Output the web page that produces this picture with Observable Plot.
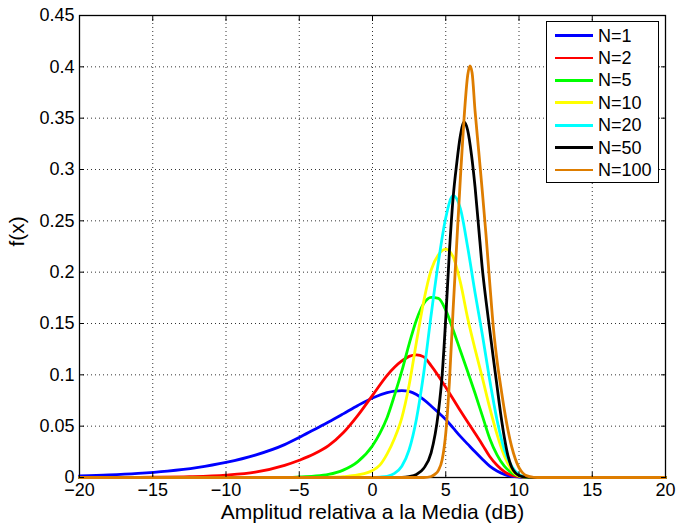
<!DOCTYPE html>
<html>
<head>
<meta charset="utf-8">
<script src="https://cdn.jsdelivr.net/npm/d3@7"></script>
<script src="https://cdn.jsdelivr.net/npm/@observablehq/plot@0.6"></script>
<style>
  body { margin: 0; background: #fff; }
  #wrap { position: relative; width: 677px; height: 524px; font-family: "Liberation Sans", Arial, sans-serif; }
  #legend { position: absolute; left: 546px; top: 21px; width: 113px; height: 162px; box-sizing: border-box;
            border: 1px solid #000; background: #fff; }
  .row { position: absolute; left: 0; width: 100%; height: 0; }
  .sw { position: absolute; left: 8px; width: 38px; height: 2.8px; top: -1.4px; }
  .lt { position: absolute; left: 51px; top: -9px; font-size: 18px; line-height: 18px; white-space: nowrap; color: #000; }
</style>
</head>
<body>
<div id="wrap"></div>
<script>
// Values: [x (dB), f(x)]
const n1 = [[-20,0.0016],[-18,0.0025],[-16,0.004],[-14,0.0063],[-12,0.0097],[-10,0.0147],[-8,0.0218],[-6,0.032],[-5,0.039],[-4,0.0465],[-3,0.054],[-2,0.062],[-1,0.0702],[0,0.0775],[1,0.0826],[1.5,0.0841],[2,0.0847],[2.5,0.0838],[3,0.0808],[3.5,0.0758],[4,0.0697],[4.5,0.0632],[5,0.0565],[5.5,0.0483],[6,0.04],[6.5,0.0325],[7,0.025],[7.5,0.0178],[8,0.011],[8.5,0.0063],[9,0.003],[9.5,0.0012],[10,0.0005],[11,0],[20,0]];
const n2 = [[-20,0],[-17.5,0.0001],[-15,0.0003],[-12.5,0.0008],[-10,0.0023],[-8,0.0052],[-6,0.0118],[-5,0.0168],[-4,0.0228],[-3,0.031],[-2,0.0435],[-1,0.0605],[0,0.08],[1,0.0995],[2,0.1135],[2.5,0.118],[3,0.1195],[3.5,0.1175],[4,0.109],[5,0.088],[6,0.065],[7,0.043],[7.5,0.032],[8,0.0205],[8.5,0.012],[9,0.0058],[9.5,0.0022],[10,0.0008],[11,0.0001],[12,0],[20,0]];
const n5 = [[-20,0],[-6,0],[-5,0.0005],[-4,0.0013],[-3,0.003],[-2,0.0072],[-1,0.0155],[0,0.031],[0.5,0.043],[1,0.0585],[1.5,0.08],[2,0.1035],[2.5,0.13],[3,0.1535],[3.5,0.1695],[4,0.1755],[4.5,0.1745],[5,0.163],[5.5,0.144],[6,0.1235],[6.5,0.103],[7,0.082],[7.5,0.06],[8,0.038],[8.5,0.022],[9,0.011],[9.5,0.0045],[10,0.0013],[10.5,0.0003],[11,0],[20,0]];
const n10 = [[-20,0],[-4,0],[-3,0.0002],[-2,0.0008],[-1,0.0025],[0,0.0068],[0.5,0.012],[1,0.023],[1.5,0.038],[2,0.058],[2.5,0.09],[3,0.132],[3.5,0.172],[4,0.202],[4.5,0.217],[5,0.2225],[5.5,0.215],[6,0.19],[6.5,0.155],[7,0.125],[7.5,0.097],[8,0.068],[8.5,0.042],[9,0.021],[9.5,0.0075],[10,0.0015],[10.5,0.0002],[11,0],[20,0]];
const n20 = [[-20,0],[0,0],[0.5,0.0004],[1,0.0012],[1.5,0.004],[2,0.011],[2.5,0.027],[3,0.057],[3.5,0.102],[4,0.158],[4.5,0.21],[5,0.253],[5.5,0.2745],[6,0.262],[6.5,0.224],[7,0.18],[7.5,0.139],[8,0.095],[8.5,0.056],[9,0.027],[9.5,0.011],[10,0.0028],[10.5,0.0005],[11,0],[20,0]];
const n50 = [[-20,0],[2,0],[2.5,0.0008],[3,0.003],[3.5,0.009],[4,0.024],[4.5,0.064],[4.75,0.099],[5,0.155],[5.25,0.22],[5.5,0.272],[5.75,0.306],[6,0.333],[6.25,0.346],[6.5,0.338],[6.75,0.315],[7,0.283],[7.25,0.243],[7.5,0.203],[7.75,0.172],[8,0.144],[8.25,0.116],[8.5,0.089],[8.75,0.062],[9,0.039],[9.25,0.021],[9.5,0.01],[9.75,0.0045],[10,0.002],[10.5,0.0003],[11,0],[20,0]];
const n100 = [[-20,0],[3.5,0],[4,0.001],[4.25,0.003],[4.5,0.007],[4.75,0.017],[5,0.043],[5.25,0.093],[5.5,0.163],[5.75,0.228],[6,0.292],[6.25,0.35],[6.5,0.392],[6.65,0.401],[6.8,0.394],[7,0.357],[7.25,0.318],[7.5,0.278],[7.75,0.236],[8,0.19],[8.25,0.146],[8.5,0.114],[8.75,0.089],[9,0.066],[9.25,0.046],[9.5,0.03],[9.75,0.018],[10,0.0095],[10.25,0.0045],[10.5,0.0018],[11,0.0002],[11.5,0],[20,0]];

const seriesLabels = ["N=1","N=2","N=5","N=10","N=20","N=50","N=100"];
const seriesColors = ["#0000ff","#ff0000","#00ff00","#ffff00","#00ffff","#000000","#de7d00"];
const seriesData = [n1, n2, n5, n10, n20, n50, n100];

const xTicks = [-20,-15,-10,-5,0,5,10,15,20];
const yTicks = [0,0.05,0.1,0.15,0.2,0.25,0.3,0.35,0.4,0.45];
const xGrid = [-15,-10,-5,0,5,10,15];
const yGrid = [0.05,0.1,0.15,0.2,0.25,0.3,0.35,0.4];
const xLabel = "Amplitud relativa a la Media (dB)";
const yLabel = "f(x)";

const fmtX = d => d < 0 ? "\u2212" + (-d) : String(d);
const gridStyle = {stroke: "#333", strokeOpacity: 1, strokeWidth: 1, strokeDasharray: "1,3"};

const chart = Plot.plot({
  width: 677, height: 524,
  marginLeft: 79, marginRight: 12, marginTop: 15, marginBottom: 47,
  x: {domain: [-20, 20]},
  y: {domain: [0, 0.45]},
  style: {fontFamily: '"Liberation Sans", Arial, sans-serif', fontSize: "18px", background: "#fff", color: "#000"},
  marks: [
    Plot.gridX(xGrid, gridStyle),
    Plot.gridY(yGrid, gridStyle),
    Plot.frame({stroke: "#000", strokeWidth: 1.3}),
    ...seriesData.map((data, i) => Plot.line(data, {
      x: d => d[0], y: d => d[1], stroke: seriesColors[i], strokeWidth: 2.8, curve: "monotone-x"
    })),
    Plot.axisX({ticks: xTicks, anchor: "bottom", tickSize: -5, tickFormat: () => "", label: null}),
    Plot.axisX({ticks: xTicks, anchor: "top", tickSize: -5, tickFormat: () => "", label: null}),
    Plot.axisY({ticks: yTicks, anchor: "left", tickSize: -5, tickFormat: () => "", label: null}),
    Plot.axisY({ticks: yTicks, anchor: "right", tickSize: -5, tickFormat: () => "", label: null}),
    Plot.axisX({ticks: xTicks, anchor: "bottom", tickSize: 0, tickPadding: 6, tickFormat: fmtX, label: null, fontSize: 18}),
    Plot.axisY({ticks: yTicks, anchor: "left", tickSize: 0, tickPadding: 5, tickFormat: d => String(d), label: null, fontSize: 18}),
    Plot.text([xLabel], {text: d => d, frameAnchor: "bottom", lineAnchor: "top", dy: 27, fontSize: 21}),
    Plot.text([yLabel], {text: d => d, frameAnchor: "left", rotate: -90, dx: -62, lineAnchor: "middle", fontSize: 21})
  ]
});

const wrap = document.getElementById("wrap");
wrap.appendChild(chart);

const legend = document.createElement("div");
legend.id = "legend";
seriesLabels.forEach((lab, i) => {
  const row = document.createElement("div");
  row.className = "row";
  row.style.top = (13.5 + i * 22.4) + "px";
  const sw = document.createElement("div");
  sw.className = "sw";
  sw.style.background = seriesColors[i];
  const lt = document.createElement("div");
  lt.className = "lt";
  lt.textContent = lab;
  row.appendChild(sw);
  row.appendChild(lt);
  legend.appendChild(row);
});
wrap.appendChild(legend);
</script>
</body>
</html>
